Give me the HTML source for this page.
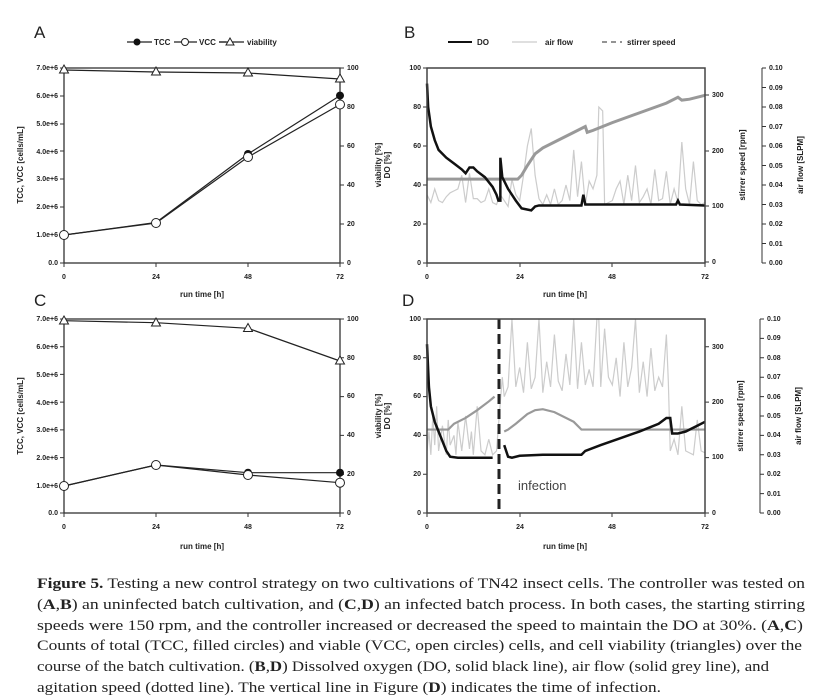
<!DOCTYPE html>
<html><head><meta charset="utf-8"><style>
body{margin:0;background:#fff}
svg{display:block}
.t{font-family:"Liberation Sans",sans-serif;font-size:7px;font-weight:bold;fill:#222}
.l{font-family:"Liberation Sans",sans-serif;font-size:8px;font-weight:bold;fill:#222}
.p{font-family:"Liberation Sans",sans-serif;font-size:17px;fill:#222}
.c{font-family:"Liberation Serif",serif;font-size:14.5px;fill:#222}
</style></head><body>
<svg width="830" height="699" viewBox="0 0 830 699" xmlns="http://www.w3.org/2000/svg">
<rect width="830" height="699" fill="#fff"/>
<!-- panel letters -->
<text class="p" x="34" y="38">A</text>
<text class="p" x="404" y="38">B</text>
<text class="p" x="34" y="306">C</text>
<text class="p" x="402" y="306">D</text>

<!-- legend A -->
<g stroke="#222" stroke-width="1.2" fill="none">
<line x1="127" y1="42" x2="226" y2="42"/>
</g>
<circle cx="137" cy="42" r="3.5" fill="#111"/>
<rect x="152" y="37" width="22" height="10" fill="#fff"/>
<text class="l" x="154" y="45">TCC</text>
<circle cx="185" cy="42" r="3.5" fill="#fff" stroke="#222"/>
<rect x="197" y="37" width="22" height="10" fill="#fff"/>
<text class="l" x="199" y="45">VCC</text>
<line x1="219" y1="42" x2="244" y2="42" stroke="#222" stroke-width="1.2"/>
<path d="M230 38 L234 45 L226 45Z" fill="#fff" stroke="#222"/>
<text class="l" x="247" y="45">viability</text>

<!-- legend B -->
<line x1="448" y1="42" x2="472" y2="42" stroke="#111" stroke-width="2"/>
<text class="l" x="477" y="45">DO</text>
<line x1="512" y1="42" x2="537" y2="42" stroke="#ccc" stroke-width="1.3"/>
<text class="l" x="545" y="45">air flow</text>
<line x1="602" y1="42" x2="622" y2="42" stroke="#555" stroke-width="1.3" stroke-dasharray="5,4"/>
<text class="l" x="627" y="45">stirrer speed</text>

<!-- ===== Panel A ===== -->
<g>
<rect x="64" y="68" width="276" height="195" fill="none" stroke="#333" stroke-width="1.3"/>
<g class="t" text-anchor="end">
<text x="58" y="265">0.0</text><text x="58" y="237">1.0e+6</text><text x="58" y="209">2.0e+6</text><text x="58" y="181">3.0e+6</text><text x="58" y="154">4.0e+6</text><text x="58" y="126">5.0e+6</text><text x="58" y="98">6.0e+6</text><text x="58" y="70">7.0e+6</text>
</g>
<g stroke="#333"><path d="M60 263h4M60 235h4M60 207h4M60 179h4M60 151h4M60 124h4M60 96h4M60 68h4M340 263h4M340 224h4M340 185h4M340 146h4M340 107h4M340 68h4M64 263v4M156 263v4M248 263v4M340 263v4"/></g>
<g class="t"><text x="347" y="265">0</text><text x="347" y="226">20</text><text x="347" y="187">40</text><text x="347" y="148">60</text><text x="347" y="109">80</text><text x="347" y="70">100</text></g>
<g class="t" text-anchor="middle"><text x="64" y="279">0</text><text x="156" y="279">24</text><text x="248" y="279">48</text><text x="340" y="279">72</text></g>
<text class="l" x="202" y="297" text-anchor="middle">run time [h]</text>
<text class="l" transform="translate(23,165) rotate(-90)" text-anchor="middle">TCC, VCC [cells/mL]</text>
<text class="l" transform="translate(381,165) rotate(-90)" text-anchor="middle">viability [%]</text>
<text class="l" transform="translate(390,165) rotate(-90)" text-anchor="middle">DO [%]</text>
<g fill="none" stroke="#222" stroke-width="1.2">
<polyline points="64,70 156,72 248,73 340,79"/>
<polyline points="64,235 156,222.5 248,154 340,95.6"/>
<polyline points="64,235 156,223 248,157 340,104.5"/>
</g>
<circle cx="64" cy="235" r="4" fill="#111"/><circle cx="156" cy="222.5" r="4" fill="#111"/><circle cx="248" cy="154" r="4" fill="#111"/><circle cx="340" cy="95.6" r="4" fill="#111"/>
<g fill="#fff" stroke="#222" stroke-width="1"><circle cx="64" cy="235" r="4.5"/><circle cx="156" cy="223" r="4.5"/><circle cx="248" cy="157" r="4.5"/><circle cx="340" cy="104.5" r="4.5"/>
<path d="M64 65l4.5 8h-9z"/><path d="M156 67l4.5 8h-9z"/><path d="M248 68l4.5 8h-9z"/><path d="M340 74l4.5 8h-9z"/></g>
</g>

<!-- ===== Panel C ===== -->
<g>
<rect x="64" y="319" width="276" height="194" fill="none" stroke="#333" stroke-width="1.3"/>
<g class="t" text-anchor="end">
<text x="58" y="515">0.0</text><text x="58" y="488">1.0e+6</text><text x="58" y="460">2.0e+6</text><text x="58" y="432">3.0e+6</text><text x="58" y="405">4.0e+6</text><text x="58" y="377">5.0e+6</text><text x="58" y="349">6.0e+6</text><text x="58" y="321">7.0e+6</text>
</g>
<g stroke="#333"><path d="M60 513h4M60 485.3h4M60 457.6h4M60 429.9h4M60 402.1h4M60 374.4h4M60 346.7h4M60 319h4M340 513h4M340 474.2h4M340 435.4h4M340 396.6h4M340 357.8h4M340 319h4M64 513v4M156 513v4M248 513v4M340 513v4"/></g>
<g class="t"><text x="347" y="515">0</text><text x="347" y="476">20</text><text x="347" y="437">40</text><text x="347" y="398">60</text><text x="347" y="360">80</text><text x="347" y="321">100</text></g>
<g class="t" text-anchor="middle"><text x="64" y="529">0</text><text x="156" y="529">24</text><text x="248" y="529">48</text><text x="340" y="529">72</text></g>
<text class="l" x="202" y="549" text-anchor="middle">run time [h]</text>
<text class="l" transform="translate(23,416) rotate(-90)" text-anchor="middle">TCC, VCC [cells/mL]</text>
<text class="l" transform="translate(381,416) rotate(-90)" text-anchor="middle">viability [%]</text>
<text class="l" transform="translate(390,416) rotate(-90)" text-anchor="middle">DO [%]</text>
<g fill="none" stroke="#222" stroke-width="1.2">
<polyline points="64,320.7 156,322.7 248,328.3 340,361"/>
<polyline points="64,486 156,465 248,472.7 340,472.7"/>
<polyline points="64,486 156,465 248,475 340,482.7"/>
</g>
<circle cx="340" cy="472.7" r="4" fill="#111"/><circle cx="248" cy="472.7" r="4" fill="#111"/>
<g fill="#fff" stroke="#222" stroke-width="1"><circle cx="64" cy="486" r="4.5"/><circle cx="156" cy="465" r="4.5"/><circle cx="248" cy="475" r="4.5"/><circle cx="340" cy="482.7" r="4.5"/>
<path d="M64 316l4.5 8h-9z"/><path d="M156 318l4.5 8h-9z"/><path d="M248 323.5l4.5 8h-9z"/><path d="M340 356l4.5 8h-9z"/></g>
</g>

<!-- ===== Panel B ===== -->
<g>
<g class="t" text-anchor="end"><text x="421" y="265">0</text><text x="421" y="226">20</text><text x="421" y="187">40</text><text x="421" y="148">60</text><text x="421" y="109">80</text><text x="421" y="70">100</text></g>
<g stroke="#333"><path d="M423 263h4M423 224h4M423 185h4M423 146h4M423 107h4M423 68h4M705 262h4M705 206h4M705 151h4M705 95h4M427 263v4M520 263v4M612 263v4M705 263v4"/>
<path d="M762 68V263M762 68h4M762 87.5h4M762 107h4M762 126.5h4M762 146h4M762 165.5h4M762 185h4M762 204.5h4M762 224h4M762 243.5h4M762 263h4"/></g>
<g class="t"><text x="712" y="264">0</text><text x="712" y="208">100</text><text x="712" y="153">200</text><text x="712" y="97">300</text></g>
<g class="t"><text x="769" y="265">0.00</text><text x="769" y="246">0.01</text><text x="769" y="226">0.02</text><text x="769" y="207">0.03</text><text x="769" y="187">0.04</text><text x="769" y="168">0.05</text><text x="769" y="148">0.06</text><text x="769" y="129">0.07</text><text x="769" y="109">0.08</text><text x="769" y="90">0.09</text><text x="769" y="70">0.10</text></g>
<g class="t" text-anchor="middle"><text x="427" y="279">0</text><text x="520" y="279">24</text><text x="612" y="279">48</text><text x="705" y="279">72</text></g>
<text class="l" x="565" y="297" text-anchor="middle">run time [h]</text>
<text class="l" transform="translate(745,165) rotate(-90)" text-anchor="middle">stirrer speed [rpm]</text>
<text class="l" transform="translate(803,165) rotate(-90)" text-anchor="middle">air flow [SLPM]</text>
<g transform="translate(427,263) scale(3.861,-1.95)" fill="none">
<polyline vector-effect="non-scaling-stroke" stroke="#ccc" stroke-width="1.2" points="0,35 1,31 2,38 3,32 4,31 5,34 6,36 7,37 8,38 9,45 10,31 11,46 12,33 13,33 14,31 15,32 16,38 17,31 18,30 19,35 20,32 21,29 22,43 23,35 24,32 25,45 26,60 27,69 28,45 29,33 30,30 31,35 32,30 33,38 34,30 35,32 36,40 37,32 38,58 39,34 40,52 41,30 42,42 43,38 44,45 44.5,80 45.5,78 46,30 48,32 49,38 50,42 51,30 52,45 53,32 54,50 55,31 56,34 57,38 58,30 59,48 60,32 61,33 62,47 63,30 64,38 65,31 66,62 67,38 68,30 69,52 70,32 71,30 72,31"/>
<polyline vector-effect="non-scaling-stroke" stroke="#999" stroke-width="3" points="0,43 10,43 23.5,43 24.5,45 26,50 28,56 30,59 34,63 38,67 41,70 41.5,67 43,68 48,72 55,77 62,82 65,85 66,83.5 68,84 72,86"/>
<polyline vector-effect="non-scaling-stroke" stroke="#111" stroke-width="2.5" points="0,92 0.3,80 1,70 2,63 3,58 5,54 7,51 9,48 10,46 11,49 12,49 13,47 15,44 17,39 18,35 18.5,32 19,32 19,54 19.5,44 21,38 23,32 24.5,28 27,27 28,29 29,29.5 40,29.5 40.5,35 41,30 64.5,30 65,32 65.5,30 72,29.5"/>
</g>
<rect x="427" y="68" width="278" height="195" fill="none" stroke="#444" stroke-width="1.5"/>
</g>

<!-- ===== Panel D ===== -->
<g>
<g class="t" text-anchor="end"><text x="421" y="515">0</text><text x="421" y="476">20</text><text x="421" y="437">40</text><text x="421" y="398">60</text><text x="421" y="360">80</text><text x="421" y="321">100</text></g>
<g stroke="#333"><path d="M423 513h4M423 474.2h4M423 435.4h4M423 396.6h4M423 357.8h4M423 319h4M705 513h4M705 457.6h4M705 402.1h4M705 346.7h4M427 513v4M520 513v4M612 513v4M705 513v4"/>
<path d="M760 319V513M760 319h4M760 338.4h4M760 357.8h4M760 377.2h4M760 396.6h4M760 416h4M760 435.4h4M760 454.8h4M760 474.2h4M760 493.6h4M760 513h4"/></g>
<g class="t"><text x="712" y="515">0</text><text x="712" y="459">100</text><text x="712" y="404">200</text><text x="712" y="349">300</text></g>
<g class="t"><text x="767" y="515">0.00</text><text x="767" y="496">0.01</text><text x="767" y="476">0.02</text><text x="767" y="457">0.03</text><text x="767" y="437">0.04</text><text x="767" y="418">0.05</text><text x="767" y="399">0.06</text><text x="767" y="379">0.07</text><text x="767" y="360">0.08</text><text x="767" y="340">0.09</text><text x="767" y="321">0.10</text></g>
<g class="t" text-anchor="middle"><text x="427" y="529">0</text><text x="520" y="529">24</text><text x="612" y="529">48</text><text x="705" y="529">72</text></g>
<text class="l" x="565" y="549" text-anchor="middle">run time [h]</text>
<text class="l" transform="translate(743,416) rotate(-90)" text-anchor="middle">stirrer speed [rpm]</text>
<text class="l" transform="translate(801,416) rotate(-90)" text-anchor="middle">air flow [SLPM]</text>
<g transform="translate(427,513) scale(3.861,-1.94)" fill="none">
<polyline vector-effect="non-scaling-stroke" stroke="#ccc" stroke-width="1.2" points="0,32 0.5,42 1,30 1.5,50 2,35 2.5,55 3,32 4,45 5,30 5.5,48 6,35 7,40 7.5,30 8,47 9,32 10,50 11,33 11.5,42 12,30 13,55 14,32 15,30 16,38 17,30 18,32 19.5,70 20,60 21,65 22,100 23,65 24,75 25,62 26,88 27,64 28,70 29,100 30,62 31,78 32,65 33,92 34,68 35,63 36,82 37,66 38,100 39,64 40,88 41,66 42,74 43,65 44,100 44.5,100 45,65 46,95 47,70 48,66 49,80 50,60 51,88 52,65 53,75 54,100 55,62 56,78 57,60 58,85 59,63 60,70 61,65 62,92 62.5,68 63,32 64,38 65,30 66,55 67,32 68,31 69,30 70,48 71,32 72,31"/>
<polyline vector-effect="non-scaling-stroke" stroke="#999" stroke-width="2.2" points="0,43 5.5,43 7,46 10,49 13,53 16,57.5 17.5,60"/>
<polyline vector-effect="non-scaling-stroke" stroke="#999" stroke-width="2.2" points="20,42 21,43 23,46 26,51 28,53 30,53.5 33,52 38,47 39.5,44 40,43 72,43"/>
<polyline vector-effect="non-scaling-stroke" stroke="#111" stroke-width="2.5" points="0,87 0.5,65 1,55 2,47 3,42 4,37 5,32 6,29 8,28.5 17,28.5"/>
<polyline vector-effect="non-scaling-stroke" stroke="#111" stroke-width="2.5" points="20,35 21,29 22,28.5 24,29.5 30,30 40,30 41,32 45,35 50,38.5 55,42 60,46 62,49 63,49 63.5,41 65,41 67,42 70,45 72,47"/>
</g>
<line x1="499" y1="319" x2="499" y2="513" stroke="#222" stroke-width="3" stroke-dasharray="10,5"/>
<text x="518" y="490" style="font-family:'Liberation Sans',sans-serif;font-size:13px;fill:#444">infection</text>
<rect x="427" y="319" width="278" height="194" fill="none" stroke="#444" stroke-width="1.5"/>
</g>

<!-- caption -->
<g class="c">
<text x="37" y="588" textLength="768" lengthAdjust="spacingAndGlyphs"><tspan font-weight="bold">Figure 5.</tspan>  Testing a new control strategy on two cultivations of TN42 insect cells. The controller was tested on</text>
<text x="37" y="609" textLength="768" lengthAdjust="spacingAndGlyphs">(<tspan font-weight="bold">A</tspan>,<tspan font-weight="bold">B</tspan>) an uninfected batch cultivation, and (<tspan font-weight="bold">C</tspan>,<tspan font-weight="bold">D</tspan>) an infected batch process. In both cases, the starting stirring</text>
<text x="37" y="630" textLength="766" lengthAdjust="spacingAndGlyphs">speeds were 150 rpm, and the controller increased or decreased the speed to maintain the DO at 30%. (<tspan font-weight="bold">A</tspan>,<tspan font-weight="bold">C</tspan>)</text>
<text x="37" y="650" textLength="765" lengthAdjust="spacingAndGlyphs">Counts of total (TCC, filled circles) and viable (VCC, open circles) cells, and cell viability (triangles) over the</text>
<text x="37" y="671" textLength="732" lengthAdjust="spacingAndGlyphs">course of the batch cultivation. (<tspan font-weight="bold">B</tspan>,<tspan font-weight="bold">D</tspan>) Dissolved oxygen (DO, solid black line), air flow (solid grey line), and</text>
<text x="37" y="692" textLength="624" lengthAdjust="spacingAndGlyphs">agitation speed (dotted line). The vertical line in Figure (<tspan font-weight="bold">D</tspan>) indicates the time of infection.</text>
</g>
</svg>
</body></html>
